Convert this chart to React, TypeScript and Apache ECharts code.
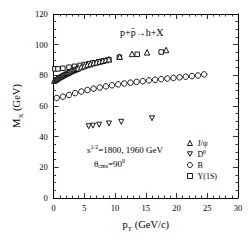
import React, { useEffect, useRef } from "react";
import * as echarts from "echarts";

const jpsiPt = [0.1, 0.3, 0.5, 0.7, 0.9, 1.1, 1.3, 1.5, 1.7, 1.9, 2.1, 2.3, 2.5, 2.75, 3.0, 3.25, 3.5, 3.75, 4.0, 4.5, 5.0, 5.5, 6.0, 6.5, 7.0, 7.5, 8.0, 8.5, 9.0, 10.75, 12.75, 15.2, 18.3];
const jpsiM = [76.6, 77.2, 77.7, 78.2, 78.7, 79.2, 79.6, 80.1, 80.5, 80.9, 81.3, 81.7, 82.1, 82.6, 83.1, 83.5, 83.9, 84.3, 84.7, 85.4, 86.1, 86.8, 87.4, 88.0, 88.5, 89.0, 89.5, 90.0, 90.5, 92.2, 94.0, 95.0, 96.5];

const d0Pt = [5.7, 6.4, 7.4, 9.0, 11.0, 16.0];
const d0M = [46.8, 47.2, 47.8, 48.6, 49.7, 52.0];

const bPt = [0.5, 1.5, 2.5, 3.5, 4.5, 5.5, 6.5, 7.5, 8.5, 9.5, 10.5, 11.5, 12.5, 13.5, 14.5, 15.5, 16.5, 17.5, 18.5, 19.5, 20.5, 21.5, 22.5, 23.5, 24.5];
const bM = [65.2, 66.1, 67.2, 68.4, 69.4, 70.4, 71.3, 72.1, 72.8, 73.5, 74.1, 74.7, 75.2, 75.7, 76.2, 76.7, 77.1, 77.5, 77.9, 78.3, 78.7, 79.1, 79.5, 79.9, 80.6];

const upsPt = [0.2, 0.7, 1.5, 2.5, 3.4, 4.3, 5.0, 5.7, 6.4, 7.3, 8.1, 9.0, 10.7, 13.6, 17.5];
const upsM = [84.2, 84.2, 84.6, 85.3, 85.9, 86.5, 87.0, 87.6, 88.2, 88.9, 89.5, 90.2, 91.8, 93.7, 95.2];

const seriesNames = ["J/ψ", "D⁰", "B", "Υ(1S)"];
const xTicks = [0, 5, 10, 15, 20, 25, 30];
const yTicks = [0, 20, 40, 60, 80, 100, 120];

const FONT = "Liberation Serif";

const zip = (a: number[], b: number[]) => a.map((v, i) => [v, b[i]]);

export default function App() {
  const ref = useRef<HTMLDivElement>(null);
  useEffect(() => {
    if (!ref.current) return;
    const chart = echarts.init(ref.current, undefined, { renderer: "svg" });
    const axisCommon = {
      axisLine: { show: true, onZero: false, lineStyle: { color: "#000", width: 1 } },
      axisTick: { show: true, inside: true, length: 5, lineStyle: { color: "#000", width: 0.8 } },
      minorTick: { show: true, length: 2.5, lineStyle: { color: "#000", width: 0.8 } },
      splitLine: { show: false },
    };
    const nameStyle = {
      fontFamily: FONT, fontSize: 10.5, color: "#000", lineHeight: 16,
      rich: { s: { fontFamily: FONT, fontSize: 7, lineHeight: 8, verticalAlign: "bottom" } },
    };
    const mk = (symbol: string, size: number) => ({
      type: "scatter" as const,
      symbol,
      symbolSize: size,
      itemStyle: { color: "#fff", borderColor: "#000", borderWidth: 0.9, opacity: 1 },
    });
    chart.setOption({
      animation: false,
      backgroundColor: "#fff",
      grid: { left: 53, right: 13, top: 14, bottom: 53 },
      xAxis: [
        {
          type: "value", min: xTicks[0], max: xTicks[xTicks.length - 1], interval: 5,
          position: "bottom", ...axisCommon,
          minorTick: { ...axisCommon.minorTick, splitNumber: 5 },
          axisLabel: { fontFamily: FONT, fontSize: 8.5, color: "#000", margin: 5 },
          name: "p{s|T} (GeV/c)", nameLocation: "middle", nameGap: 15,
          nameTextStyle: nameStyle,
        },
        {
          type: "value", min: xTicks[0], max: xTicks[xTicks.length - 1], interval: 5,
          position: "top", ...axisCommon,
          minorTick: { ...axisCommon.minorTick, splitNumber: 5 },
          axisLabel: { show: false },
        },
      ],
      yAxis: [
        {
          type: "value", min: yTicks[0], max: yTicks[yTicks.length - 1], interval: 20,
          position: "left", ...axisCommon,
          minorTick: { ...axisCommon.minorTick, splitNumber: 4 },
          axisLabel: { fontFamily: FONT, fontSize: 8.5, color: "#000", margin: 6 },
          name: "M{s|X} (GeV)", nameLocation: "middle", nameGap: 20, nameRotate: 90,
          nameTextStyle: nameStyle,
        },
        {
          type: "value", min: yTicks[0], max: yTicks[yTicks.length - 1], interval: 20,
          position: "right", ...axisCommon,
          minorTick: { ...axisCommon.minorTick, splitNumber: 4 },
          axisLabel: { show: false },
        },
      ],
      legend: {
        orient: "vertical", left: 182, top: 134,
        itemWidth: 5, itemHeight: 5, itemGap: 3,
        itemStyle: { color: "#fff", borderColor: "#000", borderWidth: 0.9 },
        textStyle: { fontFamily: FONT, fontSize: 8, color: "#000" },
        data: seriesNames,
      },
      series: [
        { ...mk("triangle", 5.5), name: seriesNames[0], data: zip(jpsiPt, jpsiM), z: 4 },
        { ...mk("path://M0,0L10,0L5,9Z", 5), name: seriesNames[1], data: zip(d0Pt, d0M) },
        { ...mk("circle", 5.5), name: seriesNames[2], data: zip(bPt, bM) },
        { ...mk("rect", 4.5), name: seriesNames[3], data: zip(upsPt, upsM), z: 3 },
      ],
      graphic: [
        {
          type: "text", left: 120, top: 27,
          style: { text: "p+p\u0304→h+X", fontFamily: FONT, fontSize: 10, fill: "#000" },
        },
        {
          type: "text", left: 87, top: 144,
          style: {
            text: "s{sup|1/2}=1800, 1960 GeV", fontFamily: FONT, fontSize: 9, fill: "#000",
            rich: { sup: { fontFamily: FONT, fontSize: 6, verticalAlign: "top", padding: [0, 0, 5, 0] } },
          },
        },
        {
          type: "text", left: 94, top: 158,
          style: {
            text: "θ{sub|cms}=90{sup|0}", fontFamily: FONT, fontSize: 9, fill: "#000",
            rich: {
              sub: { fontFamily: FONT, fontSize: 6, verticalAlign: "bottom", padding: [4, 0, 0, 0] },
              sup: { fontFamily: FONT, fontSize: 6, verticalAlign: "top", padding: [0, 0, 5, 0] },
            },
          },
        },
      ],
    });
    return () => chart.dispose();
  }, []);
  return <div ref={ref} style={{ width: 251, height: 251, position: "absolute", left: 0, top: 0 }} />;
}
